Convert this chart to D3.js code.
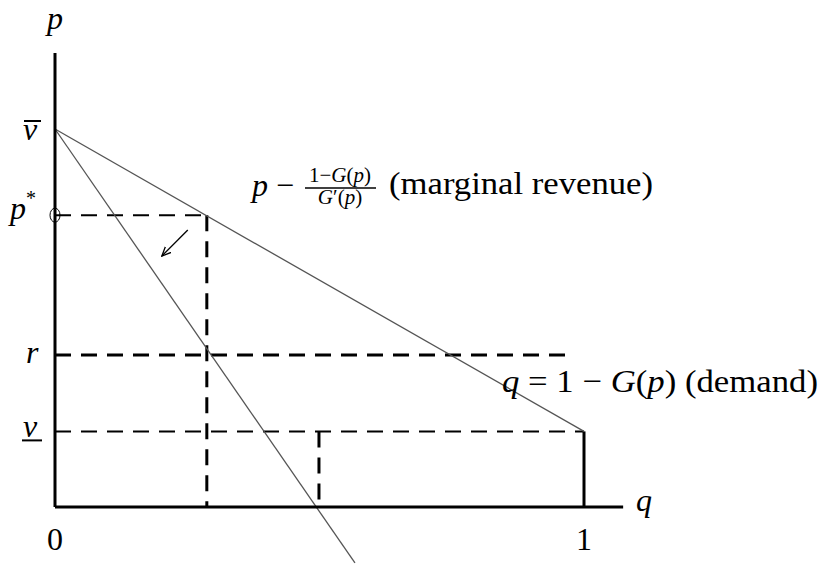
<!DOCTYPE html>
<html>
<head>
<meta charset="utf-8">
<script src="https://d3js.org/d3.v7.min.js"></script>
<style>
  body { margin: 0; background: #fff; }
  text { font-family: "Liberation Serif", "DejaVu Serif", serif; font-size: 32px; fill: #000; }
  .it { font-style: italic; }
</style>
</head>
<body>
<div id="graph"></div>
<script>

// data (q on x, p on y; vbar = 1, q range 0..1)
var demandLine = [[0, 1], [1, 0.2]];          // q = 1 - G(p)
var mrLine = [[0, 1], [0.567, -0.148]];        // marginal revenue
var pStar = 0.772, qStar = 0.287;
var rLevel = 0.402, rEnd = 0.979;
var vLow = 0.2, qMid = 0.499;
var arrowFrom = [0.251, 0.733], arrowTo = [0.202, 0.664];
var axisTop = 1.201, axisRight = 1.074;
var xTickLabels = [{q: 0, label: "0"}, {q: 1, label: "1"}];

var width = 820, height = 564;

var svg = d3.select("#graph")
  .append("svg")
    .attr("width", width)
    .attr("height", height);

var x = d3.scaleLinear().domain([0, 1]).range([55, 584]);
var y = d3.scaleLinear().domain([0, 1]).range([507, 129]);

var line = d3.line()
  .x(function(d) { return x(d[0]); })
  .y(function(d) { return y(d[1]); });

// dashed guides
function seg(x1, y1, x2, y2, w, dash) {
  svg.append("line")
    .attr("x1", x(x1)).attr("y1", y(y1))
    .attr("x2", x(x2)).attr("y2", y(y2))
    .attr("stroke", "#000")
    .attr("stroke-width", w)
    .attr("stroke-dasharray", dash);
}
seg(0, pStar, qStar, pStar, 2, "16,10");
seg(qStar, pStar, qStar, 0, 3, "16,10");
seg(0, rLevel, rEnd, rLevel, 3, "16,10");
seg(0, vLow, 1, vLow, 2, "16,10");
seg(qMid, vLow, qMid, 0, 3, "16,10");
seg(1, vLow, 1, 0, 3, null);

// curves
svg.append("path").datum(demandLine)
  .attr("d", line).attr("fill", "none")
  .attr("stroke", "#555").attr("stroke-width", 1.3);
svg.append("path").datum(mrLine)
  .attr("d", line).attr("fill", "none")
  .attr("stroke", "#555").attr("stroke-width", 1.3);

// axes
seg(0, 0, 0, axisTop, 3, null);
seg(0, 0, axisRight, 0, 3, null);

// p* marker
svg.append("ellipse")
  .attr("cx", x(0)).attr("cy", y(pStar))
  .attr("rx", 5).attr("ry", 7)
  .attr("fill", "none").attr("stroke", "#000").attr("stroke-width", 1);

// arrow
svg.append("defs").append("marker")
  .attr("id", "arr").attr("viewBox", "0 0 10 10")
  .attr("refX", 9).attr("refY", 5)
  .attr("markerWidth", 10).attr("markerHeight", 10)
  .attr("markerUnits", "userSpaceOnUse")
  .attr("orient", "auto")
  .append("path").attr("d", "M0,1 L9,5 L0,9")
  .attr("fill", "none").attr("stroke", "#000").attr("stroke-width", 1.3);
svg.append("line")
  .attr("x1", x(arrowFrom[0])).attr("y1", y(arrowFrom[1]))
  .attr("x2", x(arrowTo[0])).attr("y2", y(arrowTo[1]))
  .attr("stroke", "#000").attr("stroke-width", 1.3)
  .attr("marker-end", "url(#arr)");

// tick labels on x
svg.selectAll(".xt").data(xTickLabels).enter().append("text")
  .attr("x", function(d) { return x(d.q); })
  .attr("y", 550)
  .attr("text-anchor", "middle")
  .text(function(d) { return d.label; });

// axis names
svg.append("text").attr("class", "it").attr("x", 55).attr("y", 29)
  .attr("text-anchor", "middle").text("p");
svg.append("text").attr("class", "it").attr("x", 636).attr("y", 511).text("q");

// y labels
svg.append("text").attr("class", "it").attr("x", 23).attr("y", y(1) + 11).text("v");
svg.append("line").attr("x1", 24).attr("x2", 41)
  .attr("y1", y(1) - 8).attr("y2", y(1) - 8)
  .attr("stroke", "#000").attr("stroke-width", 2);

var ps = svg.append("text").attr("x", 10).attr("y", y(pStar) + 4);
ps.append("tspan").attr("class", "it").text("p");
ps.append("tspan").attr("font-size", "20px").attr("dy", -14).text("*");

svg.append("text").attr("class", "it").attr("x", 26).attr("y", y(rLevel) + 8).text("r");

svg.append("text").attr("class", "it").attr("x", 23).attr("y", y(vLow) + 6).text("v");
svg.append("line").attr("x1", 22).attr("x2", 42)
  .attr("y1", y(vLow) + 9).attr("y2", y(vLow) + 9)
  .attr("stroke", "#000").attr("stroke-width", 2);

// marginal revenue label
var mrBase = 196;
svg.append("text").attr("class", "it").attr("x", 252).attr("y", mrBase).text("p");
svg.append("text").attr("x", 276).attr("y", mrBase).text("\u2212");
svg.append("text").attr("x", 340).attr("y", 182)
  .attr("text-anchor", "middle").style("font-size", "21px")
  .html('1\u2212<tspan font-style="italic">G</tspan>(<tspan font-style="italic">p</tspan>)');
svg.append("line").attr("x1", 305).attr("x2", 376)
  .attr("y1", 188).attr("y2", 188)
  .attr("stroke", "#000").attr("stroke-width", 1.5);
svg.append("text").attr("x", 340).attr("y", 204)
  .attr("text-anchor", "middle").style("font-size", "21px")
  .html('<tspan font-style="italic">G</tspan>\u2032(<tspan font-style="italic">p</tspan>)');
svg.append("text").attr("x", 389).attr("y", mrBase - 2)
  .attr("textLength", 264).attr("lengthAdjust", "spacingAndGlyphs")
  .text("(marginal revenue)");

// demand label
svg.append("text").attr("x", 502).attr("y", 392)
  .attr("textLength", 316).attr("lengthAdjust", "spacingAndGlyphs")
  .html('<tspan font-style="italic">q</tspan> = 1 \u2212 <tspan font-style="italic">G</tspan>(<tspan font-style="italic">p</tspan>) (demand)');

</script>
</body>
</html>
